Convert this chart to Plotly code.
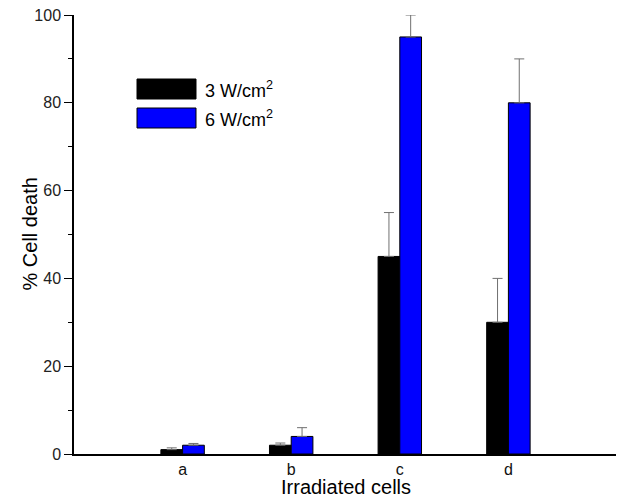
import plotly.graph_objects as go

categories = ["a", "b", "c", "d"]
series_names = ["3 W/cm<sup>2</sup>", "6 W/cm<sup>2</sup>"]
vals_3w = [1, 2, 45, 30]
err_3w = [0.4, 0.5, 10, 10]
vals_6w = [2, 4, 95, 80]
err_6w = [0.4, 2, 5, 10]
colors = ["#000000", "#0000FF"]
y_ticks = [0, 20, 40, 60, 80, 100]

FONT = "Liberation Sans, Arial, sans-serif"

# the page body adds an 8px offset; size the figure to fill the remaining window
OFF = 8
FW, FH = 624 - OFF, 502 - OFF
L, T, W, H = 74 - OFF, 15 - OFF, 543, 439   # plot area in figure pixels

def px(x): return (x - OFF - L) / W          # window px -> paper x
def py(y): return (T + H - (y - OFF)) / H    # window px -> paper y

fig = go.Figure()
for name, vals, errs, col in [(series_names[0], vals_3w, err_3w, colors[0]),
                              (series_names[1], vals_6w, err_6w, colors[1])]:
    fig.add_trace(go.Bar(
        x=list(range(len(categories))), y=vals, name=name,
        marker=dict(color=col, line=dict(color="#000000", width=1)),
        error_y=dict(type="data", symmetric=False, array=errs,
                     arrayminus=[0] * len(errs), color="#707070",
                     thickness=1, width=5),
        showlegend=False,
    ))

# manual legend (large swatches like the original)
legend_rows = [(79, 99), (108, 128)]
for (y0, y1), col, name in zip(legend_rows, colors, series_names):
    fig.add_shape(type="rect", xref="paper", yref="paper",
                  x0=px(137), x1=px(196), y0=py(y1), y1=py(y0),
                  fillcolor=col, line=dict(color="#000000", width=1))
    fig.add_annotation(xref="paper", yref="paper", x=px(203), y=py((y0 + y1) / 2),
                       text=name, showarrow=False, xanchor="left", yanchor="middle",
                       font=dict(family=FONT, size=18, color="#000000"))

# axis titles
fig.add_annotation(xref="paper", yref="paper", x=0.5, y=py(487),
                   text="Irradiated cells", showarrow=False,
                   xanchor="center", yanchor="middle",
                   font=dict(family=FONT, size=20, color="#000000"))
fig.add_annotation(xref="paper", yref="paper", x=px(29), y=0.5,
                   text="% Cell death", showarrow=False, textangle=-90,
                   xanchor="center", yanchor="middle",
                   font=dict(family=FONT, size=20, color="#000000"))

fig.update_layout(
    width=FW, height=FH,
    margin=dict(l=L, r=FW - L - W, t=T, b=FH - T - H, autoexpand=False),
    plot_bgcolor="white", paper_bgcolor="white",
    barmode="group", bargap=0.6, bargroupgap=0,
    font=dict(family=FONT, color="#000000"),
    xaxis=dict(range=[-1, 4], tickmode="array",
               tickvals=list(range(len(categories))), ticktext=categories,
               showline=True, linecolor="#000000", linewidth=1.5,
               ticks="", showgrid=False, zeroline=False, automargin=False,
               ticklabeloverflow="allow",
               tickfont=dict(size=16, color="#111111")),
    yaxis=dict(range=[0, 100], tickvals=y_ticks,
               showline=True, linecolor="#000000", linewidth=1.5,
               ticks="outside", ticklen=8, tickwidth=1.2, tickcolor="#000000",
               minor=dict(dtick=10, ticks="outside", ticklen=4, tickwidth=1.2,
                          tickcolor="#000000", showgrid=False),
               showgrid=False, zeroline=False, automargin=False,
               ticklabeloverflow="allow",
               tickfont=dict(size=16, color="#222222")),
)

fig.write_html("out.html")
